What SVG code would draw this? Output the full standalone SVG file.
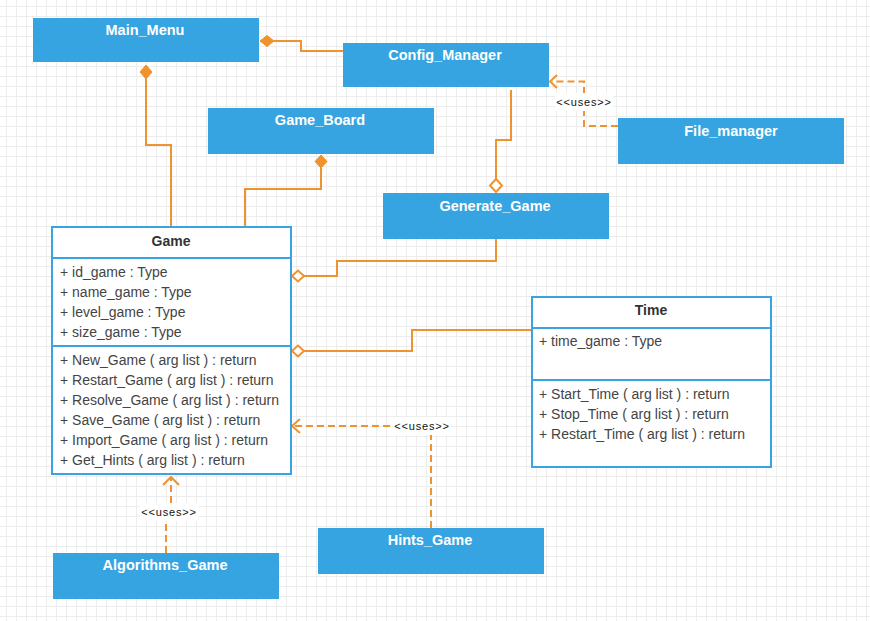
<svg xmlns="http://www.w3.org/2000/svg" width="870" height="621" viewBox="0 0 870 621">
<defs>
<pattern id="grid" x="6" y="6" width="10" height="10" patternUnits="userSpaceOnUse">
<rect x="0" y="0" width="10" height="1" fill="#ededed"/>
<rect x="0" y="0" width="1" height="10" fill="#ededed"/>
</pattern>
<style>
.blue{fill:#35a4e1;}
.tw{font-family:"Liberation Sans",Arial,sans-serif;font-size:14.5px;font-weight:bold;fill:#ffffff;text-anchor:middle;}
.cls{fill:#ffffff;stroke:#3aa3e3;stroke-width:2;}
.sep{stroke:#3aa3e3;stroke-width:2;fill:none;}
.th{font-family:"Liberation Sans",Arial,sans-serif;font-size:14px;font-weight:bold;fill:#333333;text-anchor:middle;}
.tm{font-family:"Liberation Sans",Arial,sans-serif;font-size:14px;fill:#444444;}
.ln{fill:none;stroke:#f0922d;stroke-width:2;}
.dl{fill:none;stroke:#f0922d;stroke-width:2;stroke-dasharray:7 4;}
.fd{fill:#f0922d;stroke:#f0922d;stroke-width:1;}
.od{fill:#ffffff;stroke:#f0922d;stroke-width:2;}
.lbl{font-family:"Liberation Sans",Arial,sans-serif;font-size:11px;letter-spacing:0.8px;fill:#111111;text-anchor:middle;}
</style>
</defs>
<rect x="0" y="0" width="870" height="621" fill="#ffffff"/>
<rect x="0" y="0" width="870" height="621" fill="url(#grid)"/>

<g id="connectors">
<path class="ln" d="M171,227 V145 H146 V79"/>
<path class="fd" d="M146,65 L152,72 L146,79 L140,72 Z"/>
<path class="ln" d="M343,51 H301 V41 H274"/>
<path class="fd" d="M260,41 L267,35.5 L274,41 L267,46.5 Z"/>
<path class="ln" d="M245,227 V189 H321 V168"/>
<path class="fd" d="M321,155 L327,161.5 L321,168 L315,161.5 Z"/>
<path class="ln" d="M511,90 V140 H496 V179"/>
<path class="od" d="M496,179 L502,185.5 L496,192 L490,185.5 Z"/>
<path class="dl" d="M618,126 H584 V81.5 H552"/>
<path class="ln" d="M557,75 L550,81.5 L557,88"/>
<path class="ln" d="M496,238 V261 H337 V276 H304"/>
<path class="od" d="M292,276 L298,270.5 L304,276 L298,281.5 Z"/>
<path class="ln" d="M532,330 H412 V351 H304"/>
<path class="od" d="M292,351 L298,345.5 L304,351 L298,356.5 Z"/>
<path class="dl" d="M431,528 V426 H294"/>
<path class="ln" d="M300,419 L292,426 L300,433"/>
<path class="dl" d="M166,553 V512 H171 V478"/>
<path class="ln" d="M163,485 L171,477 L179,485"/>
<rect x="555" y="93" width="58" height="18" fill="#ffffff"/>
<text class="lbl" x="584" y="106">&lt;&lt;uses&gt;&gt;</text>
<rect x="393" y="417" width="58" height="18" fill="#ffffff"/>
<text class="lbl" x="422" y="429.5">&lt;&lt;uses&gt;&gt;</text>
<rect x="140" y="503" width="58" height="18" fill="#ffffff"/>
<text class="lbl" x="169" y="516">&lt;&lt;uses&gt;&gt;</text>
</g>

<g id="main_menu">
<rect class="blue" x="33" y="18" width="226" height="44"/>
<text class="tw" x="145" y="35">Main_Menu</text>
</g>
<g id="config_manager">
<rect class="blue" x="343" y="43" width="206" height="44"/>
<text class="tw" x="445" y="60">Config_Manager</text>
</g>
<g id="game_board">
<rect class="blue" x="208" y="108" width="226" height="46"/>
<text class="tw" x="320" y="125">Game_Board</text>
</g>
<g id="file_manager">
<rect class="blue" x="618" y="118" width="226" height="46"/>
<text class="tw" x="731" y="135.5">File_manager</text>
</g>
<g id="generate_game">
<rect class="blue" x="383" y="193" width="226" height="46"/>
<text class="tw" x="495" y="210.5">Generate_Game</text>
</g>
<g id="hints_game">
<rect class="blue" x="318" y="528" width="226" height="46"/>
<text class="tw" x="430" y="545">Hints_Game</text>
</g>
<g id="algorithms_game">
<rect class="blue" x="53" y="553" width="226" height="46"/>
<text class="tw" x="165" y="570">Algorithms_Game</text>
</g>

<g id="game">
<rect class="cls" x="52" y="227" width="239" height="247"/>
<line class="sep" x1="52" y1="258" x2="291" y2="258"/>
<line class="sep" x1="52" y1="346" x2="291" y2="346"/>
<text class="th" x="171" y="246">Game</text>
<text class="tm" x="60" y="276.5">+ id_game : Type</text>
<text class="tm" x="60" y="296.5">+ name_game : Type</text>
<text class="tm" x="60" y="316.5">+ level_game : Type</text>
<text class="tm" x="60" y="336.5">+ size_game : Type</text>
<text class="tm" x="60" y="364.5">+ New_Game ( arg list ) : return</text>
<text class="tm" x="60" y="384.5">+ Restart_Game ( arg list ) : return</text>
<text class="tm" x="60" y="404.5">+ Resolve_Game ( arg list ) : return</text>
<text class="tm" x="60" y="424.5">+ Save_Game ( arg list ) : return</text>
<text class="tm" x="60" y="444.5">+ Import_Game ( arg list ) : return</text>
<text class="tm" x="60" y="464.5">+ Get_Hints ( arg list ) : return</text>
</g>

<g id="time">
<rect class="cls" x="532" y="297" width="239" height="170"/>
<line class="sep" x1="532" y1="328" x2="771" y2="328"/>
<line class="sep" x1="532" y1="380" x2="771" y2="380"/>
<text class="th" x="651" y="315">Time</text>
<text class="tm" x="539" y="346">+ time_game : Type</text>
<text class="tm" x="539" y="398.5">+ Start_Time ( arg list ) : return</text>
<text class="tm" x="539" y="418.5">+ Stop_Time ( arg list ) : return</text>
<text class="tm" x="539" y="438.5">+ Restart_Time ( arg list ) : return</text>
</g>
</svg>
